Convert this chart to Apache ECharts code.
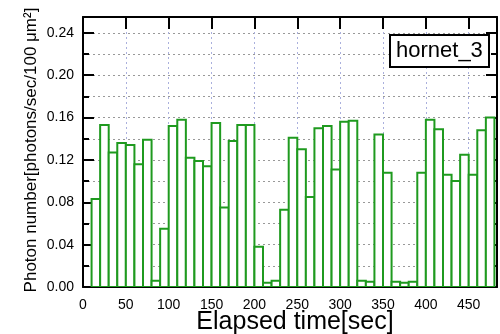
<!DOCTYPE html>
<html>
<head>
<meta charset="utf-8">
<script src="https://cdn.jsdelivr.net/npm/echarts@6/dist/echarts.min.js"></script>
<style>
  html, body { margin: 0; padding: 0; background: #fff; }
  #chart { width: 500px; height: 334px; }
</style>
</head>
<body>
<div id="chart"></div>
<script>
// bin start times [sec], every bin is 10 s wide
const binStart = [10, 20, 30, 40, 50, 60, 70, 80, 90, 100,
  110, 120, 130, 140, 150, 160, 170, 180, 190, 200,
  210, 220, 230, 240, 250, 260, 270, 280, 290, 300,
  310, 320, 330, 340, 350, 360, 370, 380, 390, 400,
  410, 420, 430, 440, 450, 460, 470];
const binWidth = 10;
// photon number [photons/sec/100 um^2]
const photons = [0.083, 0.153, 0.127, 0.136, 0.134, 0.116, 0.139, 0.006, 0.055, 0.152,
  0.158, 0.122, 0.119, 0.114, 0.155, 0.075, 0.138, 0.153, 0.153, 0.038,
  0.004, 0.006, 0.073, 0.141, 0.130, 0.085, 0.150, 0.152, 0.111, 0.156,
  0.157, 0.006, 0.005, 0.144, 0.108, 0.005, 0.004, 0.005, 0.108, 0.158,
  0.149, 0.106, 0.100, 0.125, 0.106, 0.148, 0.160];
const sampleName = 'hornet_3';

const green = '#1f9a1f';
const font = "'Liberation Sans', Arial, sans-serif";

const chart = echarts.init(document.getElementById('chart'));

const data = binStart.map((s, i) => [s, photons[i]]);

function onStep(v, step) {
  return Math.abs(v / step - Math.round(v / step)) < 1e-6;
}

const blackLine = { color: '#000', width: 2 };
// axes stay on the frame, not on the other axis' zero
const frameLine = { show: true, onZero: false, lineStyle: blackLine };

chart.setOption({
  animation: false,
  backgroundColor: '#fff',
  textStyle: { fontFamily: font },
  title: {
    text: sampleName,
    left: 390,
    top: 35,
    padding: [5, 6, 5, 6],
    borderWidth: 2,
    borderColor: '#000',
    backgroundColor: '#fff',
    textStyle: { fontSize: 22, fontWeight: 'normal', color: '#000', fontFamily: font }
  },
  grid: { left: 83, right: -9, top: 17, bottom: 47 },
  xAxis: [{
    type: 'value', min: 0, max: 483, interval: 50, position: 'bottom',
    axisLine: frameLine,
    axisTick: { show: true, inside: true, length: 4, lineStyle: blackLine },
    axisLabel: {
      fontSize: 14, color: '#000', margin: 11,
      formatter: v => onStep(v, 50) ? String(v) : ''
    },
    splitLine: { show: true, lineStyle: { color: '#aab0dd', width: 1, type: [2, 3] } }
  }, {
    type: 'value', min: 0, max: 483, interval: 50, position: 'top',
    axisLine: frameLine,
    axisTick: { show: true, inside: true, length: 12, lineStyle: blackLine },
    axisLabel: { show: false },
    splitLine: { show: false }
  }],
  yAxis: [{
    type: 'value', min: 0, max: 0.255, interval: 0.04, position: 'left',
    axisLine: frameLine,
    axisTick: { show: true, inside: true, length: 11, lineStyle: blackLine },
    minorTick: { show: true, splitNumber: 2, length: 6, lineStyle: blackLine },
    axisLabel: {
      fontSize: 14, color: '#000', margin: 9,
      formatter: v => onStep(v, 0.04) ? v.toFixed(2) : ''
    },
    splitLine: { show: true, lineStyle: { color: '#999', width: 1, type: [2, 3] } },
    minorSplitLine: { show: true, lineStyle: { color: '#999', width: 1, type: [2, 3] } }
  }, {
    type: 'value', min: 0, max: 0.255, interval: 0.04, position: 'right',
    axisLine: frameLine,
    axisTick: { show: true, inside: true, length: 11, lineStyle: blackLine },
    minorTick: { show: true, splitNumber: 2, length: 6, lineStyle: blackLine },
    axisLabel: { show: false },
    splitLine: { show: false }
  }],
  graphic: [{
    type: 'text',
    x: 31, y: 150,
    rotation: Math.PI / 2,
    style: {
      text: 'Photon number[photons/sec/100 μm²]',
      font: '17px ' + font,
      fill: '#000',
      textAlign: 'center',
      textVerticalAlign: 'middle'
    }
  }, {
    type: 'text',
    x: 295, y: 322,
    style: {
      text: 'Elapsed time[sec]',
      font: '25px ' + font,
      fill: '#000',
      textAlign: 'center',
      textVerticalAlign: 'middle'
    }
  }],
  series: [{
    type: 'custom',
    clip: true,
    xAxisIndex: 0,
    yAxisIndex: 0,
    data: data,
    renderItem: function (params, api) {
      const x0 = api.value(0);
      const v = api.value(1);
      const p0 = api.coord([x0, 0]);
      const p1 = api.coord([x0 + binWidth, v]);
      return {
        type: 'rect',
        shape: { x: p0[0], y: p1[1], width: p1[0] - p0[0], height: p0[1] - p1[1] },
        style: { fill: '#fff', stroke: green, lineWidth: 2 }
      };
    }
  }]
});
</script>
</body>
</html>
